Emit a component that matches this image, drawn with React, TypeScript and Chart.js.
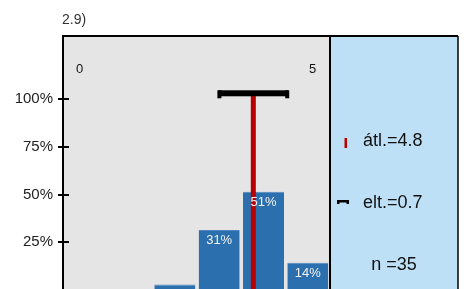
import React, { useEffect, useRef } from "react";
import { Chart, registerables } from "chart.js";

Chart.register(...registerables);

const categories = ["1", "2", "3", "4", "5", "6"];
const percentages = [0, 0, 2.9, 31.4, 51.4, 14.3];
const barLabels = ["", "", "", "31%", "51%", "14%"];
const yTicks = [25, 50, 75, 100];
const yMax = 133;
const meanValue = 4.77;
const sdValue = 0.72;
const errorBarLevel = 103;
const scaleEndLabels = ["0", "5"];
const titleText = "2.9)";
const meanText = "átl.=4.8";
const sdText = "elt.=0.7";
const nText = "n =35";

const FONT = "'Liberation Sans', Arial, sans-serif";

const decorPlugin = {
  id: "decor",
  beforeDraw(chart: any) {
    const { ctx, chartArea } = chart;
    const { left, right, top, bottom } = chartArea;
    ctx.save();
    ctx.fillStyle = "#e5e5e5";
    ctx.fillRect(left, top, right - left, bottom - top);
    ctx.fillStyle = "#bee0f6";
    ctx.fillRect(right, top, 128, bottom - top + 20);
    ctx.restore();
  },
  afterDatasetsDraw(chart: any) {
    const { ctx, chartArea, scales } = chart;
    const { left, right, top, bottom } = chartArea;
    const x = scales.x;
    const y = scales.y;
    ctx.save();

    // mean line
    const mx = x.getPixelForValue(meanValue - 1);
    const ey = y.getPixelForValue(errorBarLevel);
    ctx.fillStyle = "#b80000";
    ctx.fillRect(mx - 2.5, ey, 5, bottom - ey + 20);

    // error bar
    const xl = x.getPixelForValue(meanValue - 1 - sdValue);
    const xr = x.getPixelForValue(meanValue - 1 + sdValue);
    ctx.fillStyle = "#000";
    ctx.fillRect(xl - 3, ey - 3, xr - xl + 6, 6);
    ctx.fillRect(xl - 4, ey - 3, 4, 8);
    ctx.fillRect(xr, ey - 3, 4, 8);

    // bar labels
    const meta = chart.getDatasetMeta(0);
    ctx.fillStyle = "#f2f2f2";
    ctx.font = `13px ${FONT}`;
    ctx.textAlign = "center";
    ctx.textBaseline = "middle";
    meta.data.forEach((bar: any, i: number) => {
      if (!barLabels[i]) return;
      ctx.fillText(barLabels[i], bar.x, bar.y + 10.5);
    });

    // scale end labels
    ctx.fillStyle = "#111";
    ctx.font = `13px ${FONT}`;
    ctx.fillText(scaleEndLabels[0], left + 15.5, top + 33);
    ctx.fillText(scaleEndLabels[1], right - 17.5, top + 33);

    // borders
    ctx.strokeStyle = "#000";
    ctx.lineWidth = 2;
    ctx.beginPath();
    ctx.moveTo(left - 1, bottom + 20);
    ctx.lineTo(left - 1, top);
    ctx.lineTo(right + 128, top);
    ctx.stroke();
    ctx.beginPath();
    ctx.moveTo(right, top);
    ctx.lineTo(right, bottom + 20);
    ctx.stroke();
    ctx.lineWidth = 1.5;
    ctx.beginPath();
    ctx.moveTo(right + 128, top);
    ctx.lineTo(right + 128, bottom + 20);
    ctx.stroke();

    // y ticks
    ctx.lineWidth = 2;
    yTicks.forEach((v) => {
      const py = Math.round(y.getPixelForValue(v));
      ctx.beginPath();
      ctx.moveTo(left - 6, py);
      ctx.lineTo(left + 5, py);
      ctx.stroke();
    });

    // panel legend
    const px = right;
    ctx.fillStyle = "#c00000";
    ctx.fillRect(px + 14.5, top + 102, 2.5, 10);
    ctx.fillStyle = "#000";
    ctx.fillRect(px + 7, top + 164, 12, 2.5);
    ctx.fillRect(px + 7, top + 164, 2.5, 4);
    ctx.fillRect(px + 16.5, top + 164, 2.5, 4);

    ctx.fillStyle = "#111";
    ctx.font = `18px ${FONT}`;
    ctx.textAlign = "left";
    ctx.textBaseline = "middle";
    ctx.fillText(meanText, px + 33, top + 105);
    ctx.fillText(sdText, px + 33, top + 167);
    ctx.textAlign = "center";
    ctx.fillText(nText, px + 64, top + 229);

    // title
    ctx.fillStyle = "#333";
    ctx.font = `14px ${FONT}`;
    ctx.textAlign = "left";
    ctx.textBaseline = "alphabetic";
    ctx.fillText(titleText, left - 2, 24);

    ctx.restore();
  },
};

export default function App() {
  const ref = useRef<HTMLCanvasElement | null>(null);
  useEffect(() => {
    if (!ref.current) return;
    const chart = new Chart(ref.current, {
      type: "bar",
      data: {
        labels: categories,
        datasets: [
          {
            data: percentages,
            backgroundColor: "#2c6fae",
            borderColor: "#4d86be",
            borderWidth: { top: 1, left: 0, right: 0, bottom: 0 },
            barPercentage: 0.925,
            categoryPercentage: 1,
          },
        ],
      },
      options: {
        animation: false,
        responsive: false,
        maintainAspectRatio: false,
        layout: { padding: { left: 0, right: 134, top: 36, bottom: 18 } },
        plugins: {
          legend: { display: false },
          tooltip: { enabled: false },
          title: { display: false },
        },
        scales: {
          x: { type: "category", display: false, offset: true },
          y: {
            min: 0,
            max: yMax,
            afterBuildTicks: (scale: any) => {
              scale.ticks = yTicks.map((v) => ({ value: v }));
            },
            afterFit: (scale: any) => {
              scale.width = 64;
            },
            grid: { display: false, drawTicks: false },
            border: { display: false },
            ticks: {
              padding: 11,
              color: "#222",
              font: { size: 15, family: FONT },
              callback: (v: any) => `${v}%`,
            },
          },
        },
      },
      plugins: [decorPlugin],
    });
    return () => chart.destroy();
  }, []);
  return (
    <div style={{ position: "absolute", left: 0, top: 0, width: 464, height: 310 }}>
      <canvas ref={ref} width={464} height={310} style={{ display: "block" }} />
    </div>
  );
}
